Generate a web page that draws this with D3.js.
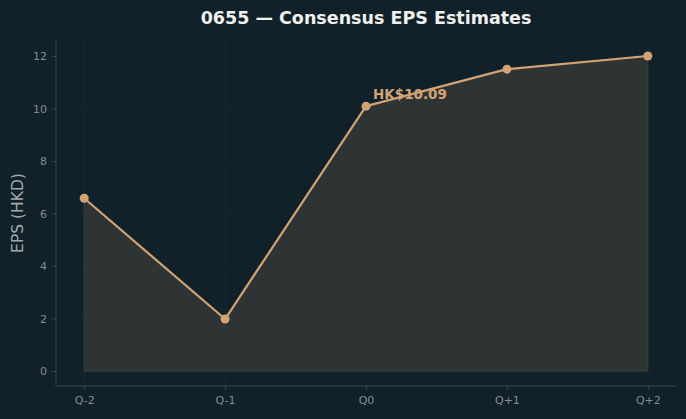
<!DOCTYPE html>
<html>
<head>
<meta charset="utf-8">
<script src="https://cdn.jsdelivr.net/npm/d3@7"></script>
<style>
  html, body { margin: 0; padding: 0; background: #10212a; }
  svg { display: block; font-family: "DejaVu Sans", sans-serif; }
</style>
</head>
<body>
<svg id="chart" width="686" height="419"></svg>
<script>
'use strict';

// data
const quarters = ['Q-2', 'Q-1', 'Q0', 'Q+1', 'Q+2'];
const epsValues = [6.58, 1.98, 10.09, 11.50, 12.00];
const yTicks = [0, 2, 4, 6, 8, 10, 12];
const highlightIndex = 2;
const highlightLabel = 'HK$10.09';

const BG = '#10212a',
	LINE = '#d4a373',
	AREA = '#2e3434',
	GRID = '#192a32',
	SPINE = '#3d4448',
	TICK_TEXT = '#868d92';

const width = 686, height = 419,
	margin = { left: 56, right: 10, top: 40, bottom: 33 };

let svg = d3.select('#chart');

svg.append('rect')
	.attr('width', width).attr('height', height)
	.attr('fill', BG);

let x = d3.scaleLinear()
	.domain([-0.2, quarters.length - 1 + 0.2])
	.range([margin.left, width - margin.right]);

let y = d3.scaleLinear()
	.domain([-0.571, 12.61])
	.range([height - margin.bottom, margin.top]);

// grid
let grid = svg.append('g');
grid.selectAll('.gy').data(yTicks).enter().append('line')
	.attr('x1', margin.left).attr('x2', width - margin.right)
	.attr('y1', d => y(d)).attr('y2', d => y(d))
	.attr('stroke', GRID).attr('stroke-width', 0.8);
grid.selectAll('.gx').data(quarters).enter().append('line')
	.attr('x1', (d, i) => x(i)).attr('x2', (d, i) => x(i))
	.attr('y1', margin.top).attr('y2', height - margin.bottom)
	.attr('stroke', GRID).attr('stroke-width', 0.8);

// area under the line
let area = d3.area()
	.x((d, i) => x(i))
	.y0(y(0))
	.y1(d => y(d));

svg.append('path')
	.datum(epsValues)
	.attr('d', area)
	.attr('fill', AREA)
	.attr('stroke', '#3a3f3a')
	.attr('stroke-width', 1);

let line = d3.line()
	.x((d, i) => x(i))
	.y(d => y(d));

svg.append('path')
	.datum(epsValues)
	.attr('d', line)
	.attr('fill', 'none')
	.attr('stroke', LINE)
	.attr('stroke-width', 2.2)
	.attr('stroke-linejoin', 'round');

svg.selectAll('.dot').data(epsValues).enter().append('circle')
	.attr('cx', (d, i) => x(i))
	.attr('cy', d => y(d))
	.attr('r', 4.5)
	.attr('fill', LINE);

// annotation
svg.append('text')
	.attr('x', x(highlightIndex) + 7)
	.attr('y', y(epsValues[highlightIndex]) - 7)
	.attr('fill', LINE)
	.attr('font-size', 13.5)
	.attr('font-weight', 'bold')
	.text(highlightLabel);

// axes
let xAxis = svg.append('g')
	.attr('transform', `translate(0,${height - margin.bottom})`)
	.call(d3.axisBottom(x).tickValues(d3.range(quarters.length)).tickFormat(i => quarters[i]).tickSize(4).tickPadding(6));

let yAxis = svg.append('g')
	.attr('transform', `translate(${margin.left},0)`)
	.call(d3.axisLeft(y).tickValues(yTicks).tickSize(4).tickPadding(5));

[xAxis, yAxis].forEach(ax => {
	ax.select('.domain').attr('stroke', SPINE).attr('stroke-width', 1);
	ax.selectAll('.tick line').attr('stroke', SPINE);
	ax.selectAll('.tick text')
		.attr('fill', TICK_TEXT)
		.attr('font-size', 11)
		.attr('font-family', '"DejaVu Sans", sans-serif');
});
// matplotlib style spines: plain lines without end caps
xAxis.select('.domain').attr('d', `M${margin.left},0H${width - margin.right}`);
yAxis.select('.domain').attr('d', `M0,${margin.top}V${height - margin.bottom}`);

svg.append('text')
	.attr('transform', `translate(23,${(margin.top + height - margin.bottom) / 2}) rotate(-90)`)
	.attr('text-anchor', 'middle')
	.attr('fill', '#a3a8ab')
	.attr('font-size', 15.5)
	.text('EPS (HKD)');

svg.append('text')
	.attr('x', 366)
	.attr('y', 24)
	.attr('text-anchor', 'middle')
	.attr('fill', '#f0f0ec')
	.attr('font-size', 17.5)
	.attr('font-weight', 'bold')
	.text('0655 — Consensus EPS Estimates');
</script>
</body>
</html>
